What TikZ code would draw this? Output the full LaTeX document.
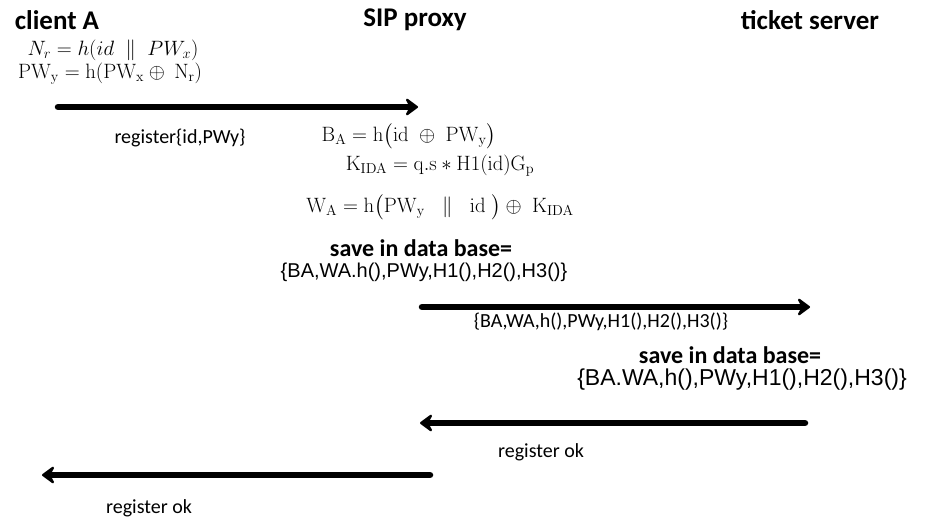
\documentclass[tikz,border=0pt]{standalone}
\usepackage{amsmath}
\usepackage{amssymb}
\usepackage[no-math]{fontspec}
\setmainfont{Carlito}
\newfontfamily\arialfont{Liberation Sans}
\usepackage{tikz}
\usetikzlibrary{arrows.meta}

\begin{document}
\begin{tikzpicture}[x=1pt, y=-1pt,
    party/.style={font=\fontsize{27}{30}\selectfont\bfseries},
    formula/.style={inner sep=0pt, font=\fontsize{21}{24}\selectfont},
    msg/.style={font=\fontsize{20}{23}\selectfont},
    savebox/.style={font=\fontsize{24}{27}\selectfont\bfseries},
    dbtext/.style={font=\fontsize{#1}{24}\selectfont\arialfont},
    bigarrow/.style={line width=6.5pt, line cap=round,
        -{Stealth[length=15pt, width=22pt, inset=6pt, round]}}]
    \useasboundingbox (0,0) rectangle (934,522);
    % participants
    \node[party] (clientA) at (57,20) {client A};
    \node[party] (proxy) at (415,20) {SIP proxy};
    \node[party] (server) at (810,20) {ticket server};
    % client side
    \node[formula] (nr) at (113,50) {$N_r = h(id \;\parallel\; PW_x)$};
    \node[formula] (pwy) at (110,74) {$\mathrm{PW_y = h(PW_x \oplus\ N_r)}$};
    \coordinate (a1s) at (58,107);
    \coordinate (a1e) at (418,107);
    \draw[bigarrow] (a1s) -- (a1e);
    \node[msg] (reg) at (180,138) {register\{id,PWy\}};
    % proxy side
    \node[formula] (ba) at (409,136) {$\mathrm{B_A = h\bigl(id \;\oplus\; PW_y\bigr)}$};
    \node[formula] (kida) at (440,166) {$\mathrm{K_{IDA} = q.s * H1(id)G_p}$};
    \node[formula] (wa) at (440,207) {$\mathrm{W_A = h\bigl(PW_y \;\;\parallel\;\; id\;\bigr) \oplus\; K_{IDA}}$};
    \node[savebox] (save1) at (421,248) {save in data base=};
    \node[dbtext=20] (db1) at (424,272) {\{BA,WA.h(),PWy,H1(),H2(),H3()\}};
    \coordinate (a2s) at (422,307);
    \coordinate (a2e) at (810,307);
    \draw[bigarrow] (a2s) -- (a2e);
    \node[msg] (fwd) at (601,322) {\{BA,WA,h(),PWy,H1(),H2(),H3()\}};
    % server side
    \node[savebox] (save2) at (730,355) {save in data base=};
    \node[dbtext=23] (db2) at (742,380) {\{BA.WA,h(),PWy,H1(),H2(),H3()\}};
    \coordinate (a3s) at (805,423);
    \coordinate (a3e) at (420,423);
    \draw[bigarrow] (a3s) -- (a3e);
    \node[msg] (ok1) at (541,452) {register ok};
    \coordinate (a4s) at (430,475);
    \coordinate (a4e) at (42,475);
    \draw[bigarrow] (a4s) -- (a4e);
    \node[msg] (ok2) at (149,508) {register ok};
\end{tikzpicture}
\end{document}
